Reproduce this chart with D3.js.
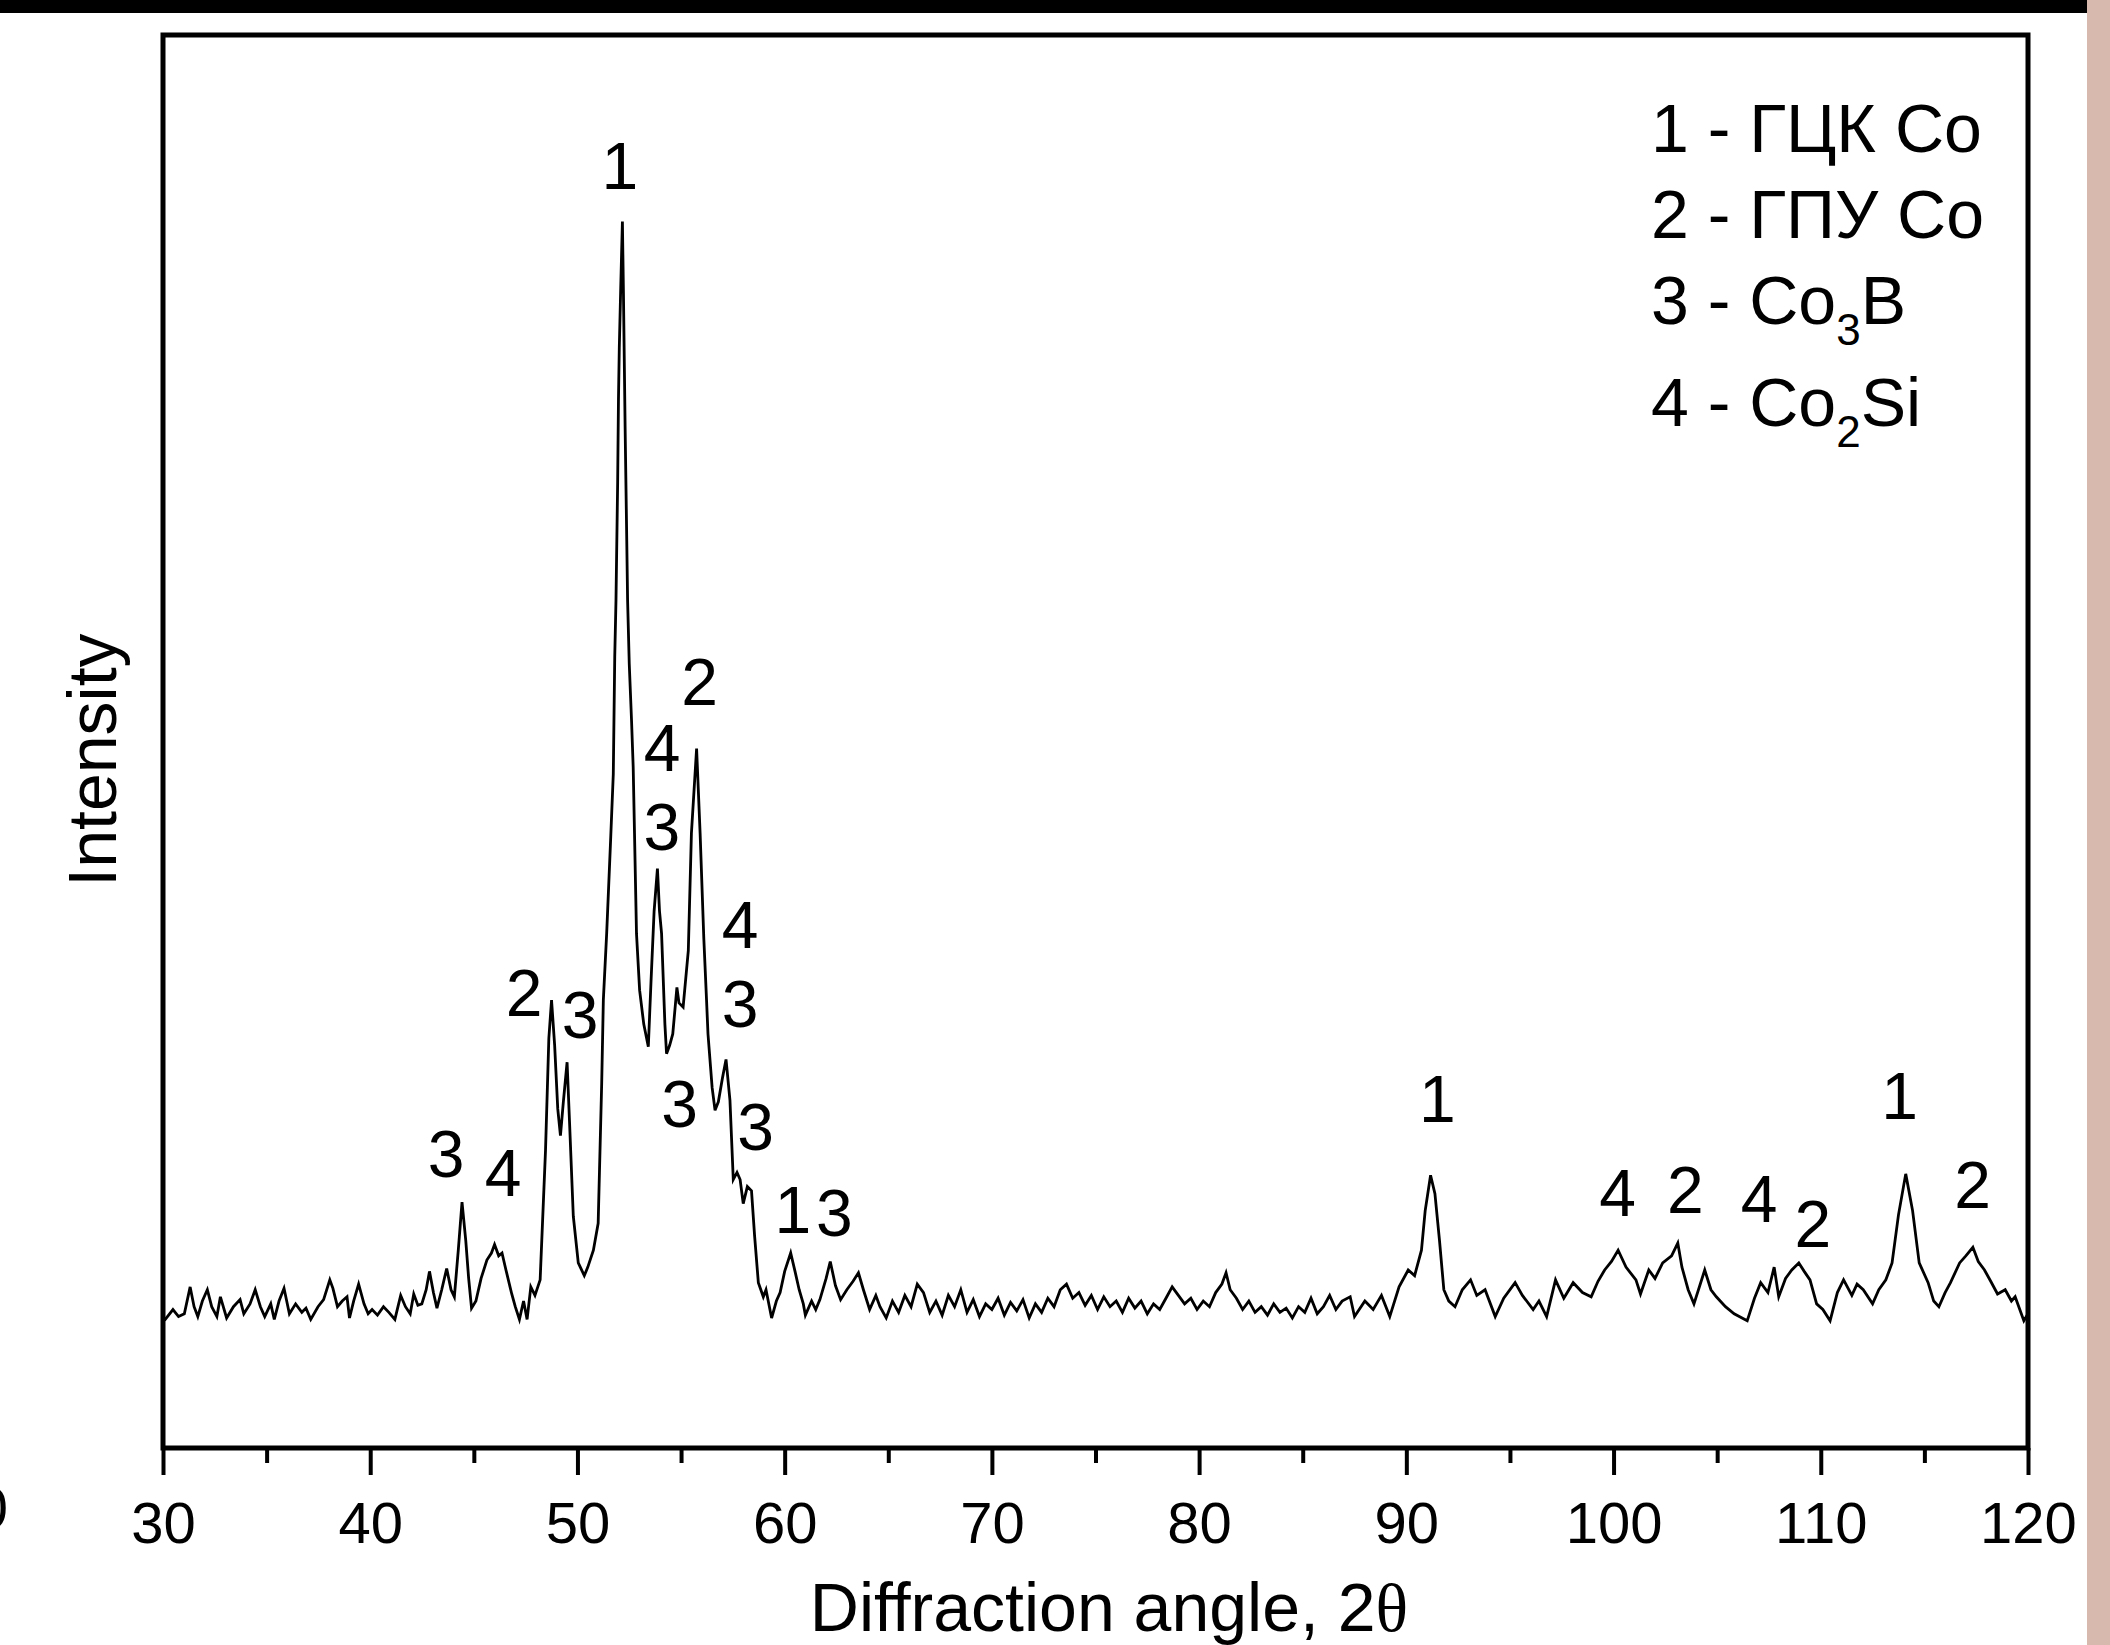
<!DOCTYPE html>
<html><head><meta charset="utf-8">
<script src="https://cdn.jsdelivr.net/npm/d3@7"></script>
<style>
body{margin:0;background:#fff;}
svg{display:block;}
text{font-family:"Liberation Sans",Arial,sans-serif;fill:#000;}
</style>
</head><body>
<svg id="c" width="2110" height="1645"></svg>
<script>
// ---- data (2θ in degrees, intensity in arbitrary units) ----
const angleA = [
30.0,30.11,30.48,30.75,31.03,31.31,31.5,31.68,31.9,32.14,
32.35,32.6,32.77,33.07,33.4,33.72,33.9,34.2,34.45,34.7,
34.91,35.2,35.37,35.6,35.84,36.1,36.4,36.7,36.9,37.13,
37.48,37.75,38.05,38.2,38.42,38.65,38.88,39.0,39.2,39.44,
39.7,39.9,40.09,40.35,40.64,40.9,41.19,41.47,41.7,41.93,
42.1,42.3,42.49,42.7,42.86,43.05,43.22,43.45,43.69,43.9,
44.06,44.25,44.43,44.61,44.75,44.89,45.1,45.35,45.63,45.85,
46.0,46.2,46.36,46.55,46.83,47.0,47.2,47.4,47.57,47.75,
47.95,48.2];
const countsA = [
92,91,98,93,95,114,100,93,104,112,
100,93,107,92,100,105,95,102,112,100,
93,102,91,104,113,95,102,96,99,91,
100,105,119,113,100,104,107,92,104,116,
102,95,98,94,100,96,91,108,100,95,
109,101,102,112,125,110,99,112,127,112,
107,140,174,147,120,99,104,120,133,138,
144,136,138,126,109,100,91,104,91,114,
108,119];
const angleB = [
48.46,48.62,48.75,48.9,49.05,49.18,49.32,49.5,49.62,49.8,
50.04,50.2,50.33,50.5,50.77,51.0,51.17,51.25,51.41,51.6,
51.73,51.8,51.86,51.94,51.98,52.02,52.09,52.17,52.22,52.3,
52.38,52.42,52.5,52.61,52.69,52.85,53.0,53.2,53.42,53.55,
53.7,53.86,53.96,54.06,54.22,54.3,54.45,54.6,54.8,54.9,
55.1,55.35,55.5,55.75,55.92,56.1,56.23,56.3,56.5,56.64,
56.8,57.0,57.17,57.36,57.52,57.7,57.85,58.0,58.2,58.4,
58.55,58.73,58.97,59.1,59.37,59.6,59.78,60.0,60.29,60.5,
60.7,60.9,61.0,61.3,61.5,61.7,62.0,62.2,62.45,62.7,
63.0,63.3,63.56,63.8,64.1,64.4,64.6,64.9];
const countsB = [
211,290,317,285,240,221,245,273,230,164,
131,126,122,128,140,159,258,317,364,430,
477,560,600,683,742,779,822,868,817,723,
642,600,555,515,482,364,324,300,284,330,
380,410,380,364,300,279,285,293,326,315,
312,352,435,495,435,360,317,293,255,239,
245,262,275,246,190,195,190,173,185,182,
150,117,107,112,92,104,110,125,138,125,
112,102,94,104,98,105,120,132,115,105,
112,118,124,112,98,108,100,92];
const angleC = [
65.2,65.5,65.8,66.1,66.4,66.7,67.0,67.3,67.6,67.9,
68.2,68.5,68.8,69.1,69.4,69.7,70.0,70.3,70.6,70.9,
71.2,71.5,71.8,72.1,72.4,72.7,73.0,73.3,73.6,73.9,
74.2,74.5,74.8,75.1,75.4,75.7,76.0,76.3,76.6,76.9,
77.2,77.5,77.8,78.1,78.4,78.7,79.0,79.3,79.6,79.9,
80.2,80.5,80.8,81.1,81.3,81.5,81.8,82.1,82.4,82.7,
83.0,83.3,83.6,83.9,84.2,84.5,84.8,85.1,85.4,85.7,
86.0,86.3,86.6,86.9];
const countsC = [
104,96,108,100,116,110,96,104,94,108,
100,112,96,105,93,102,98,106,94,103,
97,105,92,102,96,106,100,112,116,106,
110,101,108,98,107,100,104,96,106,99,
104,95,102,98,106,114,108,102,106,98,
104,100,110,116,124,112,106,98,104,96,
100,94,102,96,99,92,100,96,106,95,
100,108,98,104];
const angleD = [
87.29,87.5,88.0,88.4,88.8,89.2,89.65,90.09,90.4,90.73,
90.91,91.17,91.38,91.6,91.81,92.05,92.35,92.7,93.1,93.4,
93.8,94.29,94.7,95.25,95.6,96.12,96.4,96.77,97.2,97.6,
98.05,98.5,98.92,99.25,99.57,99.9,100.22,100.6,101.08,101.3,
101.7,102.0,102.37,102.8,103.1,103.3,103.6,103.88,104.4,104.7,
104.96,105.4,105.82,106.45,106.8,107.1,107.45,107.75,107.97,108.3,
108.6,108.94,109.2,109.48,109.8,110.1,110.45,110.8,111.1,111.5,
111.75,112.05,112.5,112.8,113.14,113.44,113.75,114.1,114.43,114.75,
115.18,115.45,115.7,116.0,116.26,116.7,117.0,117.34,117.6,117.9,
118.2,118.53,118.9,119.2,119.38,119.8,120.0];
const countsD = [
107,93,104,98,108,93,114,126,122,140,
168,193,180,147,112,104,100,112,119,108,
112,93,106,117,108,98,104,93,119,106,
117,110,107,118,126,132,140,128,119,109,
126,120,131,136,145,128,112,102,126,112,
107,100,95,90,106,117,110,128,107,120,
126,131,125,119,102,98,90,110,119,108,
116,112,102,112,119,131,165,194,168,131,
117,104,100,110,117,131,136,142,132,126,
118,109,112,104,107,90,95];

const majorTicks = [30,40,50,60,70,80,90,100,110,120];
const minorTicks = [35,45,55,65,75,85,95,105,115];
const xTitle = "Diffraction angle, 2";
const xTitleSymbol = "θ";
const yTitle = "Intensity";
// legend rows: [text, subscript, rest]
const legendRows = [
  ["1 - ГЦК Co", "", ""],
  ["2 - ГПУ Co", "", ""],
  ["3 - Co", "3", "B"],
  ["4 - Co", "2", "Si"]
];
// peak phase labels: [label, 2θ anchor, intensity level of baseline]
const peakLabels = [
  ["1", 52.05, 891], ["2", 47.43, 306], ["3", 50.13, 290], ["3", 43.66, 192],
  ["4", 46.41, 178], ["4", 54.08, 479], ["3", 54.07, 423], ["2", 55.9, 526],
  ["4", 57.85, 354], ["3", 57.85, 298], ["3", 54.93, 227], ["3", 58.6, 211],
  ["1", 60.4, 152], ["3", 62.4, 150], ["1", 91.5, 231], ["4", 100.2, 164],
  ["2", 103.47, 166], ["4", 107.03, 160], ["2", 109.62, 142], ["1", 113.8, 233],
  ["2", 117.33, 170]
];

// ---- build ----
const twoTheta = angleA.concat(angleB, angleC, angleD);
const intensity = countsA.concat(countsB, countsC, countsD);
const points = twoTheta.map((t,i)=>[t,intensity[i]]).filter(d=>d[1]!==undefined);

const svg = d3.select("#c");
const L=163, R=2028, T=35, B=1448;
const x = d3.scaleLinear().domain([30,120]).range([L,R]);
const y = d3.scaleLinear().domain([0,1000]).range([B,T]);

svg.append("rect").attr("x",0).attr("y",0).attr("width",2110).attr("height",1645).attr("fill","#fff");
// page decorations
svg.append("rect").attr("x",0).attr("y",0).attr("width",2087).attr("height",13).attr("fill","#000");
svg.append("rect").attr("x",2087).attr("y",0).attr("width",23).attr("height",1645).attr("fill","#d8b9ad");
svg.append("text").attr("x",8).attr("y",1528).attr("text-anchor","end").attr("font-size",58).text("0");

// curve
svg.append("path").datum(points)
  .attr("d", d3.line().x(d=>x(d[0])).y(d=>y(d[1])))
  .attr("fill","none").attr("stroke","#000").attr("stroke-width",2.8).attr("stroke-linejoin","miter");

// frame
svg.append("rect").attr("x",L).attr("y",T).attr("width",R-L).attr("height",B-T)
  .attr("fill","none").attr("stroke","#000").attr("stroke-width",5);

// axes
const gMinor = svg.append("g").attr("transform",`translate(0,${B})`)
  .call(d3.axisBottom(x).tickValues(minorTicks).tickSize(15).tickSizeOuter(0).tickFormat(""));
const gMajor = svg.append("g").attr("transform",`translate(0,${B})`)
  .call(d3.axisBottom(x).tickValues(majorTicks).tickSize(27).tickSizeOuter(0).tickFormat(d3.format("d")));
[gMinor,gMajor].forEach(g=>{
  g.select(".domain").remove();
  g.selectAll(".tick line").attr("stroke","#000").attr("stroke-width",4);
});
gMajor.selectAll(".tick text").attr("y",95).attr("dy",0).attr("font-size",58)
  .attr("font-family","'Liberation Sans',Arial,sans-serif").attr("fill","#000");

// axis titles
const xt = svg.append("text").attr("x",1109).attr("y",1631).attr("text-anchor","middle").attr("font-size",68);
xt.append("tspan").text(xTitle);
xt.append("tspan").attr("font-family","'Liberation Serif','Times New Roman',serif").text(xTitleSymbol);
svg.append("text").attr("transform","translate(116,760) rotate(-90)").attr("text-anchor","middle")
  .attr("font-size",68).text(yTitle);

// legend
const legendY = [152, 238, 324, 426];
legendRows.forEach((r,i)=>{
  const t = svg.append("text").attr("x",1651).attr("y",legendY[i]).attr("font-size",68);
  t.append("tspan").text(r[0]);
  if(r[1]){
    t.append("tspan").attr("font-size",44).attr("dy",21).text(r[1]);
    t.append("tspan").attr("dy",-21).text(r[2]);
  }
});

// peak labels
svg.append("g").selectAll("text").data(peakLabels).join("text")
  .attr("x",d=>x(d[1])).attr("y",d=>y(d[2])).attr("text-anchor","middle")
  .attr("font-size",66).text(d=>d[0]);
</script>
</body></html>
